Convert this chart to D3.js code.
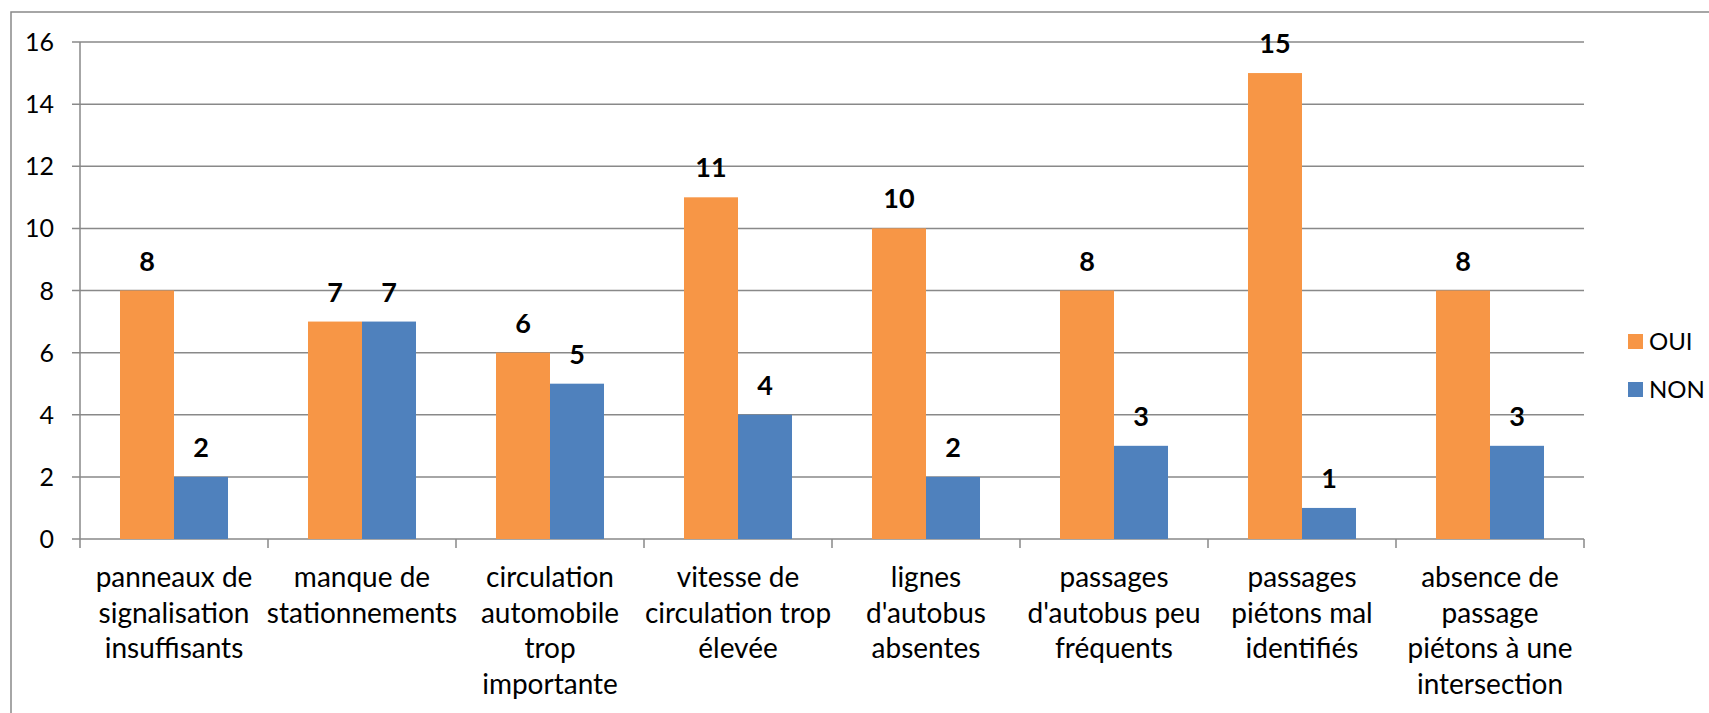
<!DOCTYPE html>
<html>
<head>
<meta charset="utf-8">
<script src="https://cdn.jsdelivr.net/npm/d3@7"></script>
<style>
  html, body { margin: 0; padding: 0; background: #fff; overflow: hidden; }
  svg { display: block; }
  text { font-family: Lato, "Open Sans", sans-serif; fill: #000; }
</style>
</head>
<body>
<svg id="chart" width="1709" height="713"></svg>
<script>
// Category labels, already broken into lines
const categories = [
  ["panneaux de", "signalisation", "insuffisants"],
  ["manque de", "stationnements"],
  ["circulation", "automobile", "trop", "importante"],
  ["vitesse de", "circulation trop", "élevée"],
  ["lignes", "d'autobus", "absentes"],
  ["passages", "d'autobus peu", "fréquents"],
  ["passages", "piétons mal", "identifiés"],
  ["absence de", "passage", "piétons à une", "intersection"]
];
const seriesNames = ["OUI", "NON"];
const ouiValues = [8, 7, 6, 11, 10, 8, 15, 8];
const nonValues = [2, 7, 5, 4, 2, 3, 1, 3];
const yTicks = [0, 2, 4, 6, 8, 10, 12, 14, 16];
const seriesColors = ["#F79646", "#4F81BD"];

const svg = d3.select("#chart");
const gridColor = "#898989";

// outer chart frame
svg.append("rect")
  .attr("x", 11).attr("y", 12)
  .attr("width", 1720).attr("height", 720)
  .attr("fill", "none").attr("stroke", gridColor).attr("stroke-width", 1.5);

const plot = { left: 80, right: 1584, top: 42, bottom: 539 };

const catKeys = categories.map((c, i) => i);
const x0 = d3.scaleBand().domain(catKeys)
  .range([plot.left, plot.right])
  .paddingInner(0.4255).paddingOuter(0.4255 / 2);
const x1 = d3.scaleBand().domain(seriesNames).range([0, x0.bandwidth()]);
const y = d3.scaleLinear().domain([0, 16]).range([plot.bottom, plot.top]);

// horizontal gridlines with left ticks
svg.append("g").selectAll("line").data(yTicks).join("line")
  .attr("x1", plot.left - 8).attr("x2", plot.right)
  .attr("y1", d => y(d)).attr("y2", d => y(d))
  .attr("stroke", gridColor).attr("stroke-width", 1.5);

// y tick labels
svg.append("g").selectAll("text").data(yTicks).join("text")
  .attr("x", 54).attr("y", d => y(d))
  .attr("dy", "0.36em")
  .attr("text-anchor", "end")
  .attr("font-size", 25)
  .text(d => d);

// vertical axis line
svg.append("line")
  .attr("x1", plot.left).attr("x2", plot.left)
  .attr("y1", plot.top).attr("y2", plot.bottom + 9)
  .attr("stroke", gridColor).attr("stroke-width", 1.5);

// category boundary ticks
const step = x0.step();
const boundaries = d3.range(categories.length + 1).map(i => plot.left + i * step);
svg.append("g").selectAll("line").data(boundaries.slice(1)).join("line")
  .attr("x1", d => d).attr("x2", d => d)
  .attr("y1", plot.bottom).attr("y2", plot.bottom + 9)
  .attr("stroke", gridColor).attr("stroke-width", 1.5);

// bars
const rows = catKeys.map(i => ({ i, vals: [ouiValues[i], nonValues[i]] }));
const groups = svg.append("g").selectAll("g").data(rows).join("g")
  .attr("transform", d => `translate(${x0(d.i)},0)`);

groups.selectAll("rect").data(d => d.vals.map((v, k) => ({ v, s: seriesNames[k], k })))
  .join("rect")
  .attr("x", d => x1(d.s))
  .attr("width", x1.bandwidth())
  .attr("y", d => y(d.v))
  .attr("height", d => y(0) - y(d.v))
  .attr("fill", d => seriesColors[d.k]);

// value labels
groups.selectAll("text").data(d => d.vals.map((v, k) => ({ v, s: seriesNames[k], k })))
  .join("text")
  .attr("x", d => x1(d.s) + x1.bandwidth() / 2)
  .attr("y", d => y(d.v) - 20)
  .attr("text-anchor", "middle")
  .attr("font-size", 27)
  .attr("font-weight", "bold")
  .text(d => d.v);

// category labels
const labels = svg.append("g").selectAll("text").data(catKeys).join("text")
  .attr("x", d => x0(d) + x0.bandwidth() / 2)
  .attr("y", 587)
  .attr("text-anchor", "middle")
  .attr("font-size", 28);
labels.selectAll("tspan").data(d => categories[d].map((line, j) => ({ line, j, d })))
  .join("tspan")
  .attr("x", t => x0(t.d) + x0.bandwidth() / 2)
  .attr("y", t => 587 + t.j * 35.5)
  .text(t => t.line);

// legend
const legend = svg.append("g").selectAll("g").data(seriesNames).join("g")
  .attr("transform", (d, i) => `translate(1628, ${334 + i * 48})`);
legend.append("rect")
  .attr("width", 15).attr("height", 15)
  .attr("fill", (d, i) => seriesColors[i]);
legend.append("text")
  .attr("x", 21).attr("y", 7.5).attr("dy", "0.36em")
  .attr("font-size", 24)
  .text(d => d);
</script>
</body>
</html>
